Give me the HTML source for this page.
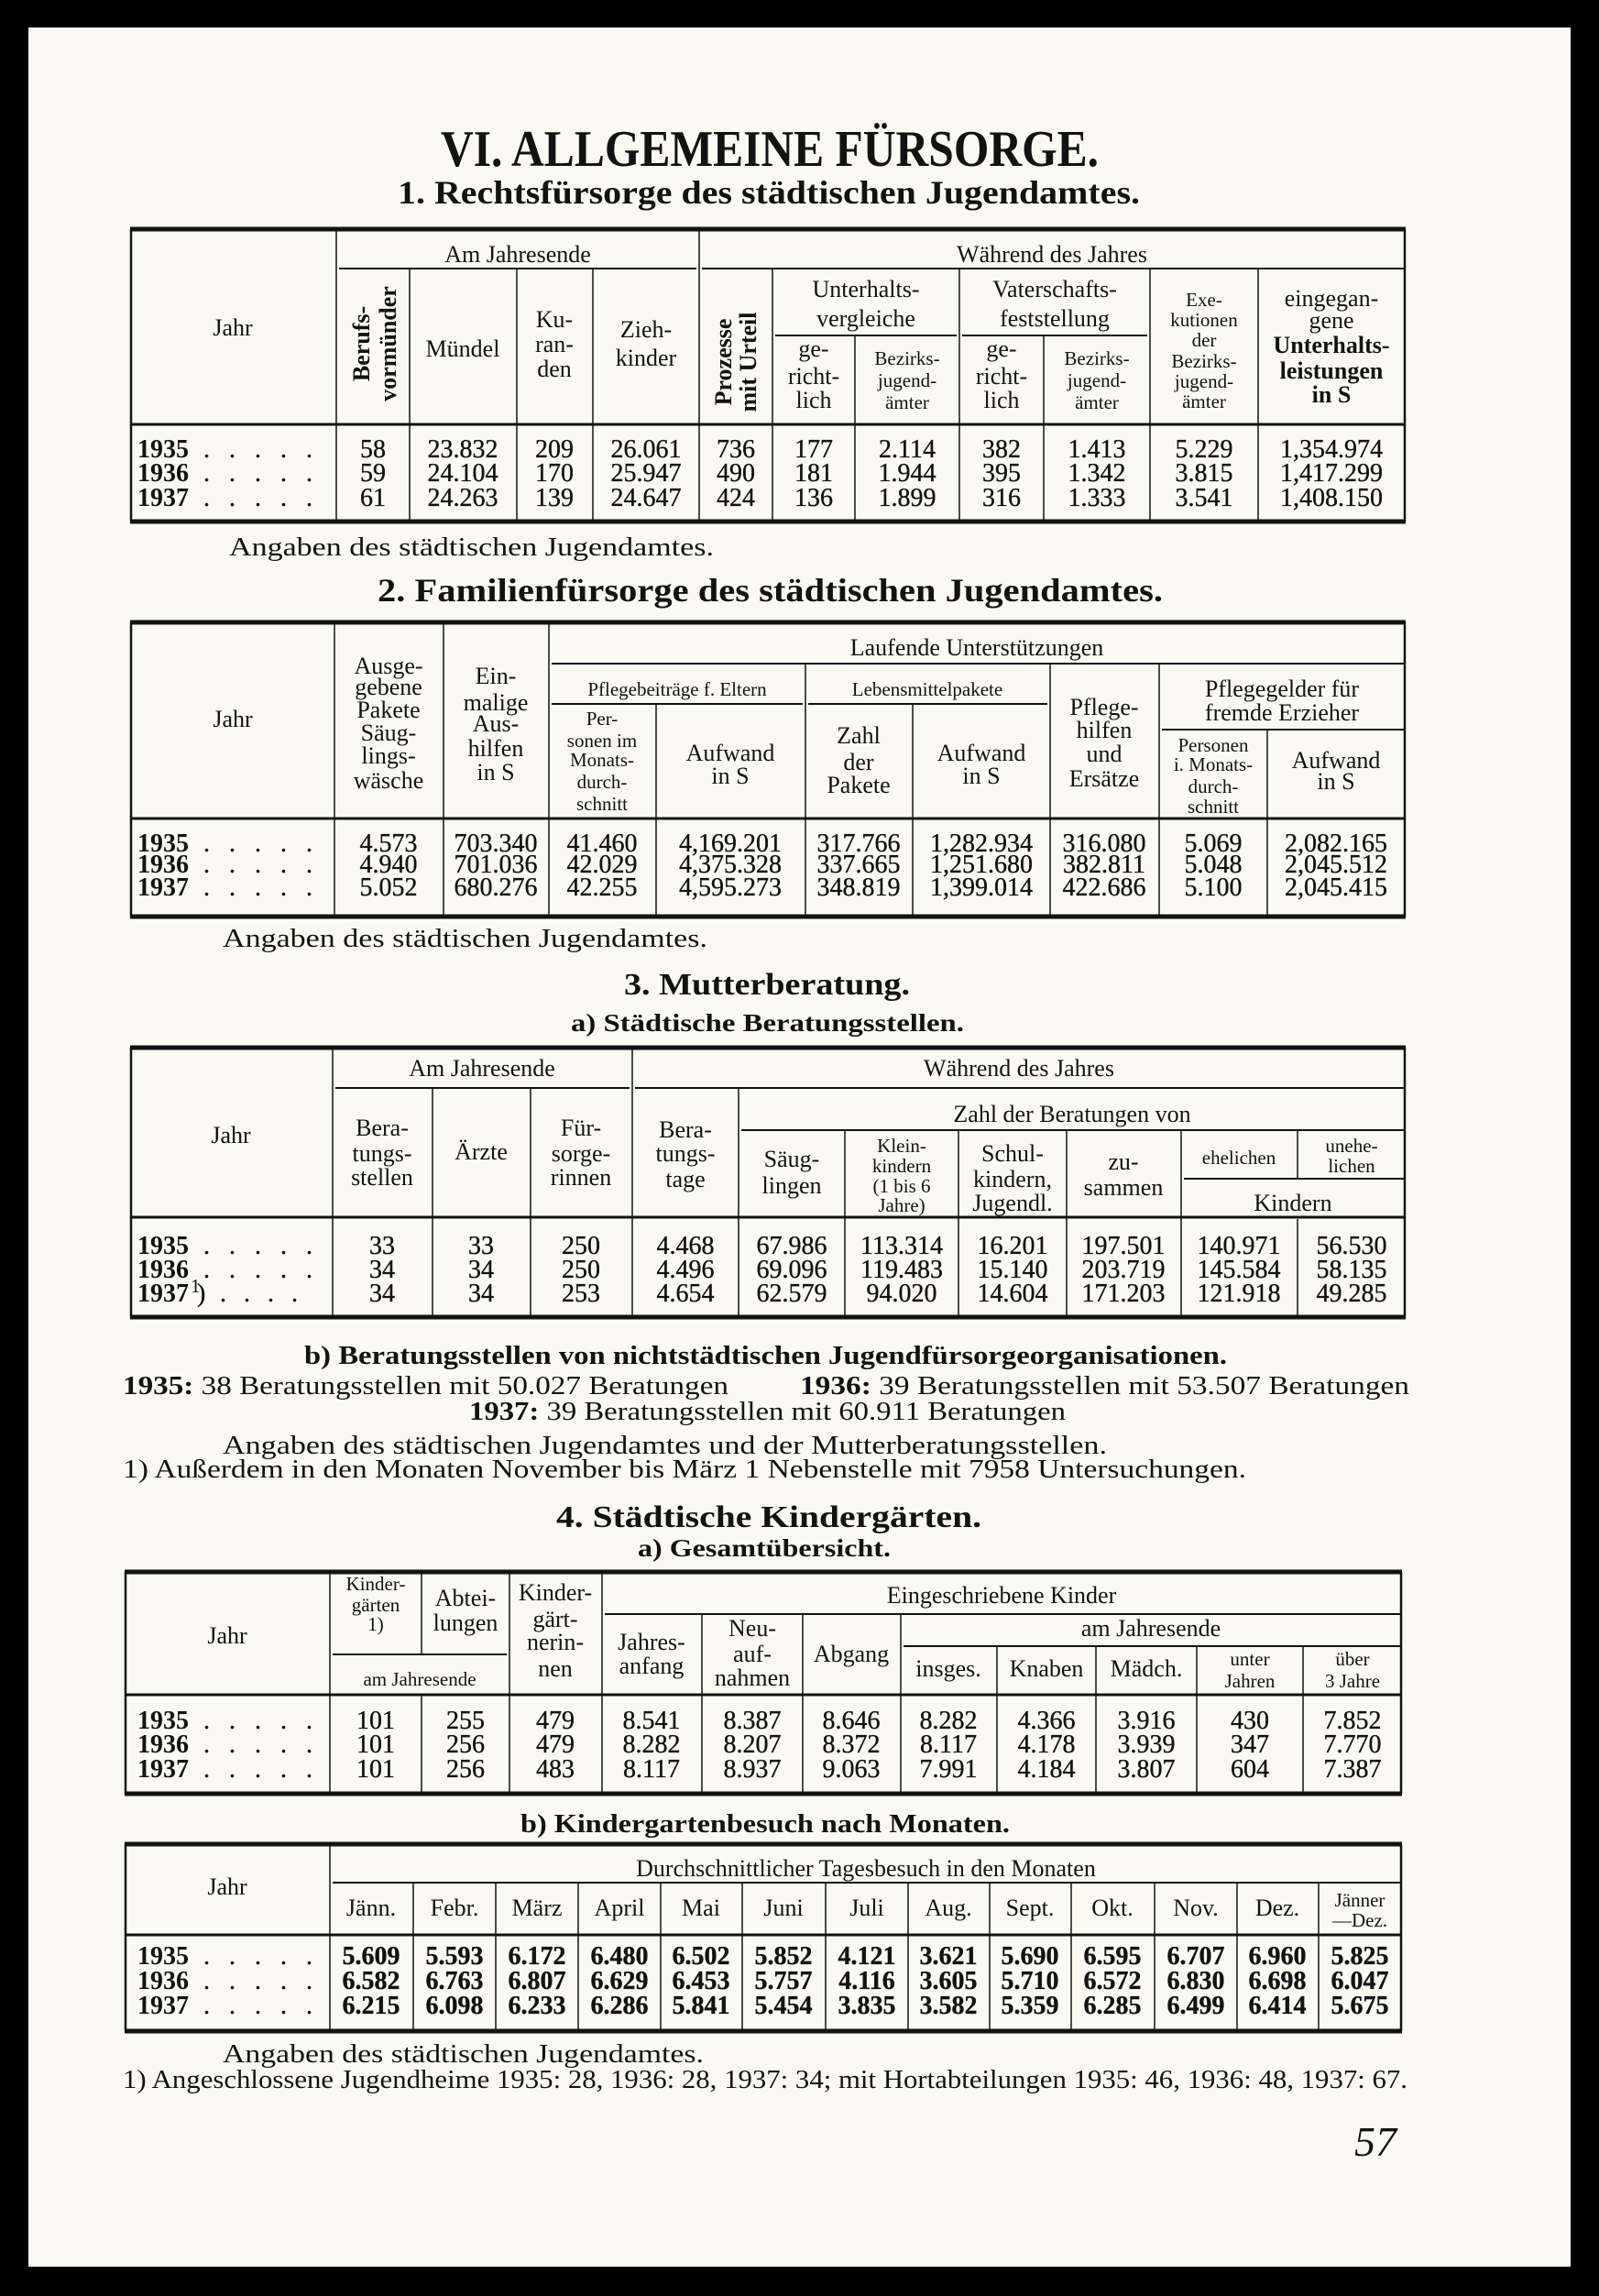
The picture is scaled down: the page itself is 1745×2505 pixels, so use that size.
<!DOCTYPE html>
<html><head><meta charset="utf-8"><style>
html,body{margin:0;padding:0;background:#000}
svg{display:block}
text{font-family:"Liberation Serif",serif;fill:#121212}
.h{font-size:26px}
.s{font-size:21px}
.d{font-size:28px;stroke:#121212;stroke-width:0.35}
.y{font-size:28px;font-weight:bold}
.b{font-weight:bold}
.m{text-anchor:middle}
.L{stroke:#121212;fill:none}
</style></head><body>
<svg width="1745" height="2505" viewBox="0 0 1745 2505" xmlns="http://www.w3.org/2000/svg">
<rect x="0" y="0" width="1745" height="2505" fill="#000"/>
<rect x="31" y="30" width="1683" height="2443" fill="#fbfaf2"/>

<text x="481" y="181" font-size="56" class="b" textLength="718" lengthAdjust="spacingAndGlyphs">VI. ALLGEMEINE FÜRSORGE.</text>
<text x="434" y="222" font-size="36" class="b" textLength="810" lengthAdjust="spacingAndGlyphs">1. Rechtsfürsorge des städtischen Jugendamtes.</text>

<!-- TABLE 1 -->
<g class="L">
<path d="M142 250H1534" stroke-width="5"/>
<path d="M142 463H1534" stroke-width="3"/>
<path d="M142 569H1534" stroke-width="5"/>
<path d="M143 250V569M1533 250V569" stroke-width="2.5"/>
<path d="M370 293H760M766 293H1532M846 366H1044M1050 366H1252" stroke-width="2"/>
<path d="M367 250V569M763 250V569M447 293V569M564 293V569M647 293V569M843 293V569M1047 293V569M1255 293V569M1373 293V569M933 366V569M1139 366V569" stroke-width="1.5"/>
</g>
<text x="565" y="286" class="h m">Am Jahresende</text>
<text x="1148" y="286" class="h m">Während des Jahres</text>
<text x="254" y="366" class="h m">Jahr</text>
<text transform="translate(403,375) rotate(-90)" class="h m b">Berufs-</text>
<text transform="translate(432,375) rotate(-90)" class="h m b">vormünder</text>
<text x="505" y="389" class="h m">Mündel</text>
<text x="605" y="357" class="h m">Ku-</text><text x="605" y="384" class="h m">ran-</text><text x="605" y="411" class="h m">den</text>
<text x="705" y="368" class="h m">Zieh-</text><text x="705" y="399" class="h m">kinder</text>
<text transform="translate(798,395) rotate(-90)" class="h m b">Prozesse</text>
<text transform="translate(825,395) rotate(-90)" class="h m b">mit Urteil</text>
<text x="945" y="324" class="h m">Unterhalts-</text><text x="945" y="356" class="h m">vergleiche</text>
<text x="1151" y="324" class="h m">Vaterschafts-</text><text x="1151" y="356" class="h m">feststellung</text>
<text x="888" y="389" class="h m">ge-</text><text x="888" y="419" class="h m">richt-</text><text x="888" y="445" class="h m">lich</text>
<text x="1093" y="389" class="h m">ge-</text><text x="1093" y="419" class="h m">richt-</text><text x="1093" y="445" class="h m">lich</text>
<text x="990" y="398" class="s m">Bezirks-</text><text x="990" y="422" class="s m">jugend-</text><text x="990" y="446" class="s m">ämter</text>
<text x="1197" y="398" class="s m">Bezirks-</text><text x="1197" y="422" class="s m">jugend-</text><text x="1197" y="446" class="s m">ämter</text>
<text x="1314" y="334" class="s m">Exe-</text><text x="1314" y="356" class="s m">kutionen</text><text x="1314" y="378" class="s m">der</text><text x="1314" y="401" class="s m">Bezirks-</text><text x="1314" y="423" class="s m">jugend-</text><text x="1314" y="445" class="s m">ämter</text>
<text x="1453" y="334" class="h m">eingegan-</text><text x="1453" y="358" class="h m">gene</text><text x="1453" y="385" class="h m b">Unterhalts-</text><text x="1453" y="413" class="h m b">leistungen</text><text x="1453" y="439" class="h m b">in S</text>

<g class="d m">
<text x="407" y="499">58</text><text x="505" y="499">23.832</text><text x="605" y="499">209</text><text x="705" y="499">26.061</text><text x="803" y="499">736</text><text x="888" y="499">177</text><text x="990" y="499">2.114</text><text x="1093" y="499">382</text><text x="1197" y="499">1.413</text><text x="1314" y="499">5.229</text><text x="1453" y="499">1,354.974</text>
<text x="407" y="525">59</text><text x="505" y="525">24.104</text><text x="605" y="525">170</text><text x="705" y="525">25.947</text><text x="803" y="525">490</text><text x="888" y="525">181</text><text x="990" y="525">1.944</text><text x="1093" y="525">395</text><text x="1197" y="525">1.342</text><text x="1314" y="525">3.815</text><text x="1453" y="525">1,417.299</text>
<text x="407" y="552">61</text><text x="505" y="552">24.263</text><text x="605" y="552">139</text><text x="705" y="552">24.647</text><text x="803" y="552">424</text><text x="888" y="552">136</text><text x="990" y="552">1.899</text><text x="1093" y="552">316</text><text x="1197" y="552">1.333</text><text x="1314" y="552">3.541</text><text x="1453" y="552">1,408.150</text>
</g>
<text x="150" y="499" class="y">1935</text><text x="222" y="499" class="d" letter-spacing="7">. . . . .</text>
<text x="150" y="525" class="y">1936</text><text x="222" y="525" class="d" letter-spacing="7">. . . . .</text>
<text x="150" y="552" class="y">1937</text><text x="222" y="552" class="d" letter-spacing="7">. . . . .</text>
<text x="250" y="606" font-size="29" textLength="529" lengthAdjust="spacingAndGlyphs">Angaben des städtischen Jugendamtes.</text>

<!-- TABLE 2 -->
<text x="412" y="656" font-size="36" class="b" textLength="857" lengthAdjust="spacingAndGlyphs">2. Familienfürsorge des städtischen Jugendamtes.</text>
<g class="L">
<path d="M142 679H1534" stroke-width="5"/>
<path d="M142 893H1534" stroke-width="3"/>
<path d="M142 1000H1534" stroke-width="5"/>
<path d="M143 679V1000M1533 679V1000" stroke-width="2.5"/>
<path d="M602 724H1532M602 768H876M882 768H1143M1268 796H1532" stroke-width="2"/>
<path d="M365 679V1000M484 679V1000M599 679V1000M879 724V1000M1146 724V1000M1265 724V1000M716 768V1000M996 768V1000M1383 796V1000" stroke-width="1.5"/>
</g>
<text x="1066" y="715" class="h m">Laufende Unterstützungen</text>
<text x="739" y="759" class="s m">Pflegebeiträge f. Eltern</text>
<text x="1012" y="759" class="s m">Lebensmittelpakete</text>
<text x="254" y="793" class="h m">Jahr</text>
<text x="424" y="735" class="h m">Ausge-</text><text x="424" y="758" class="h m">gebene</text><text x="424" y="783" class="h m">Pakete</text><text x="424" y="808" class="h m">Säug-</text><text x="424" y="833" class="h m">lings-</text><text x="424" y="860" class="h m">wäsche</text>
<text x="541" y="746" class="h m">Ein-</text><text x="541" y="775" class="h m">malige</text><text x="541" y="798" class="h m">Aus-</text><text x="541" y="825" class="h m">hilfen</text><text x="541" y="851" class="h m">in S</text>
<text x="657" y="791" class="s m">Per-</text><text x="657" y="815" class="s m">sonen im</text><text x="657" y="836" class="s m">Monats-</text><text x="657" y="860" class="s m">durch-</text><text x="657" y="884" class="s m">schnitt</text>
<text x="797" y="830" class="h m">Aufwand</text><text x="797" y="855" class="h m">in S</text>
<text x="937" y="811" class="h m">Zahl</text><text x="937" y="840" class="h m">der</text><text x="937" y="865" class="h m">Pakete</text>
<text x="1071" y="830" class="h m">Aufwand</text><text x="1071" y="855" class="h m">in S</text>
<text x="1205" y="780" class="h m">Pflege-</text><text x="1205" y="805" class="h m">hilfen</text><text x="1205" y="831" class="h m">und</text><text x="1205" y="858" class="h m">Ersätze</text>
<text x="1399" y="760" class="h m">Pflegegelder für</text><text x="1399" y="786" class="h m">fremde Erzieher</text>
<text x="1324" y="820" class="s m">Personen</text><text x="1324" y="841" class="s m">i. Monats-</text><text x="1324" y="865" class="s m">durch-</text><text x="1324" y="887" class="s m">schnitt</text>
<text x="1458" y="838" class="h m">Aufwand</text><text x="1458" y="861" class="h m">in S</text>
<g class="d m">
<text x="424" y="929">4.573</text><text x="541" y="929">703.340</text><text x="657" y="929">41.460</text><text x="797" y="929">4,169.201</text><text x="937" y="929">317.766</text><text x="1071" y="929">1,282.934</text><text x="1205" y="929">316.080</text><text x="1324" y="929">5.069</text><text x="1458" y="929">2,082.165</text>
<text x="424" y="952">4.940</text><text x="541" y="952">701.036</text><text x="657" y="952">42.029</text><text x="797" y="952">4,375.328</text><text x="937" y="952">337.665</text><text x="1071" y="952">1,251.680</text><text x="1205" y="952">382.811</text><text x="1324" y="952">5.048</text><text x="1458" y="952">2,045.512</text>
<text x="424" y="977">5.052</text><text x="541" y="977">680.276</text><text x="657" y="977">42.255</text><text x="797" y="977">4,595.273</text><text x="937" y="977">348.819</text><text x="1071" y="977">1,399.014</text><text x="1205" y="977">422.686</text><text x="1324" y="977">5.100</text><text x="1458" y="977">2,045.415</text>
</g>
<text x="150" y="929" class="y">1935</text><text x="222" y="929" class="d" letter-spacing="7">. . . . .</text>
<text x="150" y="952" class="y">1936</text><text x="222" y="952" class="d" letter-spacing="7">. . . . .</text>
<text x="150" y="977" class="y">1937</text><text x="222" y="977" class="d" letter-spacing="7">. . . . .</text>
<text x="243" y="1033" font-size="29" textLength="529" lengthAdjust="spacingAndGlyphs">Angaben des städtischen Jugendamtes.</text>

<!-- TABLE 3 -->
<text x="681" y="1085" font-size="34" class="b" textLength="312" lengthAdjust="spacingAndGlyphs">3. Mutterberatung.</text>
<text x="623" y="1125" font-size="27" class="b" textLength="429" lengthAdjust="spacingAndGlyphs">a) Städtische Beratungsstellen.</text>
<g class="L">
<path d="M142 1143H1534" stroke-width="5"/>
<path d="M142 1328H1534" stroke-width="3"/>
<path d="M142 1437H1534" stroke-width="5"/>
<path d="M143 1143V1437M1533 1143V1437" stroke-width="2.5"/>
<path d="M366 1187H687M693 1187H1532M809 1233H1532M1292 1286H1532" stroke-width="2"/>
<path d="M363 1143V1437M690 1143V1437M472 1187V1437M579 1187V1437M806 1187V1437M922 1233V1437M1046 1233V1437M1164 1233V1437M1289 1233V1437M1416 1233V1286M1416 1330V1437" stroke-width="1.5"/>
</g>
<text x="526" y="1174" class="h m">Am Jahresende</text>
<text x="1112" y="1174" class="h m">Während des Jahres</text>
<text x="1170" y="1224" class="h m">Zahl der Beratungen von</text>
<text x="252" y="1247" class="h m">Jahr</text>
<text x="417" y="1239" class="h m">Bera-</text><text x="417" y="1267" class="h m">tungs-</text><text x="417" y="1293" class="h m">stellen</text>
<text x="525" y="1265" class="h m">Ärzte</text>
<text x="634" y="1239" class="h m">Für-</text><text x="634" y="1267" class="h m">sorge-</text><text x="634" y="1293" class="h m">rinnen</text>
<text x="748" y="1241" class="h m">Bera-</text><text x="748" y="1267" class="h m">tungs-</text><text x="748" y="1295" class="h m">tage</text>
<text x="864" y="1273" class="h m">Säug-</text><text x="864" y="1302" class="h m">lingen</text>
<text x="984" y="1257" class="s m">Klein-</text><text x="984" y="1279" class="s m">kindern</text><text x="984" y="1301" class="s m">(1 bis 6</text><text x="984" y="1322" class="s m">Jahre)</text>
<text x="1105" y="1267" class="h m">Schul-</text><text x="1105" y="1295" class="h m">kindern,</text><text x="1105" y="1321" class="h m">Jugendl.</text>
<text x="1226" y="1276" class="h m">zu-</text><text x="1226" y="1304" class="h m">sammen</text>
<text x="1352" y="1270" class="s m">ehelichen</text>
<text x="1475" y="1257" class="s m">unehe-</text><text x="1475" y="1279" class="s m">lichen</text>
<text x="1411" y="1321" class="h m">Kindern</text>
<g class="d m">
<text x="417" y="1368">33</text><text x="525" y="1368">33</text><text x="634" y="1368">250</text><text x="748" y="1368">4.468</text><text x="864" y="1368">67.986</text><text x="984" y="1368">113.314</text><text x="1105" y="1368">16.201</text><text x="1226" y="1368">197.501</text><text x="1352" y="1368">140.971</text><text x="1475" y="1368">56.530</text>
<text x="417" y="1394">34</text><text x="525" y="1394">34</text><text x="634" y="1394">250</text><text x="748" y="1394">4.496</text><text x="864" y="1394">69.096</text><text x="984" y="1394">119.483</text><text x="1105" y="1394">15.140</text><text x="1226" y="1394">203.719</text><text x="1352" y="1394">145.584</text><text x="1475" y="1394">58.135</text>
<text x="417" y="1420">34</text><text x="525" y="1420">34</text><text x="634" y="1420">253</text><text x="748" y="1420">4.654</text><text x="864" y="1420">62.579</text><text x="984" y="1420">94.020</text><text x="1105" y="1420">14.604</text><text x="1226" y="1420">171.203</text><text x="1352" y="1420">121.918</text><text x="1475" y="1420">49.285</text>
</g>
<text x="150" y="1368" class="y">1935</text><text x="222" y="1368" class="d" letter-spacing="7">. . . . .</text>
<text x="150" y="1394" class="y">1936</text><text x="222" y="1394" class="d" letter-spacing="7">. . . . .</text>
<text x="150" y="1420" class="y">1937</text><text x="208" y="1410" class="s">1</text><text x="215" y="1420" class="d">)</text><text x="240" y="1420" class="d" letter-spacing="6">. . . .</text>

<text x="332" y="1488" font-size="28" class="b" textLength="1007" lengthAdjust="spacingAndGlyphs">b) Beratungsstellen von nichtstädtischen Jugendfürsorgeorganisationen.</text>
<text x="134" y="1521" font-size="29" textLength="661" lengthAdjust="spacingAndGlyphs"><tspan class="b">1935:</tspan> 38 Beratungsstellen mit 50.027 Beratungen</text>
<text x="873" y="1521" font-size="29" textLength="665" lengthAdjust="spacingAndGlyphs"><tspan class="b">1936:</tspan> 39 Beratungsstellen mit 53.507 Beratungen</text>
<text x="512" y="1549" font-size="29" textLength="651" lengthAdjust="spacingAndGlyphs"><tspan class="b">1937:</tspan> 39 Beratungsstellen mit 60.911 Beratungen</text>
<text x="243" y="1586" font-size="29" textLength="965" lengthAdjust="spacingAndGlyphs">Angaben des städtischen Jugendamtes und der Mutterberatungsstellen.</text>
<text x="134" y="1612" font-size="29" textLength="1226" lengthAdjust="spacingAndGlyphs">1) Außerdem in den Monaten November bis März 1 Nebenstelle mit 7958 Untersuchungen.</text>

<!-- TABLE 4 -->
<text x="607" y="1666" font-size="34" class="b" textLength="464" lengthAdjust="spacingAndGlyphs">4. Städtische Kindergärten.</text>
<text x="696" y="1698" font-size="27" class="b" textLength="276" lengthAdjust="spacingAndGlyphs">a) Gesamtübersicht.</text>
<g class="L">
<path d="M136 1715H1530" stroke-width="5"/>
<path d="M136 1849H1530" stroke-width="3"/>
<path d="M136 1957H1530" stroke-width="5"/>
<path d="M137 1715V1957M1529 1715V1957" stroke-width="2.5"/>
<path d="M660 1761H1528M986 1796H1528M363 1805H553" stroke-width="2"/>
<path d="M360 1715V1957M460 1715V1805M460 1849V1957M556 1715V1957M657 1715V1957M766 1761V1957M876 1761V1957M983 1761V1957M1088 1796V1957M1196 1796V1957M1306 1796V1957M1422 1796V1957" stroke-width="1.5"/>
</g>
<text x="1093" y="1749" class="h m">Eingeschriebene Kinder</text>
<text x="1256" y="1785" class="h m">am Jahresende</text>
<text x="248" y="1793" class="h m">Jahr</text>
<text x="410" y="1735" class="s m">Kinder-</text><text x="410" y="1758" class="s m">gärten</text><text x="410" y="1779" class="s m">1)</text>
<text x="508" y="1752" class="h m">Abtei-</text><text x="508" y="1779" class="h m">lungen</text>
<text x="458" y="1839" class="s m">am Jahresende</text>
<text x="606" y="1746" class="h m">Kinder-</text><text x="606" y="1775" class="h m">gärt-</text><text x="606" y="1800" class="h m">nerin-</text><text x="606" y="1829" class="h m">nen</text>
<text x="711" y="1800" class="h m">Jahres-</text><text x="711" y="1826" class="h m">anfang</text>
<text x="821" y="1785" class="h m">Neu-</text><text x="821" y="1813" class="h m">auf-</text><text x="821" y="1839" class="h m">nahmen</text>
<text x="929" y="1813" class="h m">Abgang</text>
<text x="1035" y="1829" class="h m">insges.</text><text x="1142" y="1829" class="h m">Knaben</text><text x="1251" y="1829" class="h m">Mädch.</text>
<text x="1364" y="1817" class="s m">unter</text><text x="1364" y="1841" class="s m">Jahren</text>
<text x="1476" y="1817" class="s m">über</text><text x="1476" y="1841" class="s m">3 Jahre</text>
<g class="d m">
<text x="410" y="1886">101</text><text x="508" y="1886">255</text><text x="606" y="1886">479</text><text x="711" y="1886">8.541</text><text x="821" y="1886">8.387</text><text x="929" y="1886">8.646</text><text x="1035" y="1886">8.282</text><text x="1142" y="1886">4.366</text><text x="1251" y="1886">3.916</text><text x="1364" y="1886">430</text><text x="1476" y="1886">7.852</text>
<text x="410" y="1912">101</text><text x="508" y="1912">256</text><text x="606" y="1912">479</text><text x="711" y="1912">8.282</text><text x="821" y="1912">8.207</text><text x="929" y="1912">8.372</text><text x="1035" y="1912">8.117</text><text x="1142" y="1912">4.178</text><text x="1251" y="1912">3.939</text><text x="1364" y="1912">347</text><text x="1476" y="1912">7.770</text>
<text x="410" y="1939">101</text><text x="508" y="1939">256</text><text x="606" y="1939">483</text><text x="711" y="1939">8.117</text><text x="821" y="1939">8.937</text><text x="929" y="1939">9.063</text><text x="1035" y="1939">7.991</text><text x="1142" y="1939">4.184</text><text x="1251" y="1939">3.807</text><text x="1364" y="1939">604</text><text x="1476" y="1939">7.387</text>
</g>
<text x="150" y="1886" class="y">1935</text><text x="222" y="1886" class="d" letter-spacing="7">. . . . .</text>
<text x="150" y="1912" class="y">1936</text><text x="222" y="1912" class="d" letter-spacing="7">. . . . .</text>
<text x="150" y="1939" class="y">1937</text><text x="222" y="1939" class="d" letter-spacing="7">. . . . .</text>

<!-- TABLE 5 -->
<text x="568" y="1999" font-size="28" class="b" textLength="534" lengthAdjust="spacingAndGlyphs">b) Kindergartenbesuch nach Monaten.</text>
<g class="L">
<path d="M136 2012H1530" stroke-width="5"/>
<path d="M136 2111H1530" stroke-width="3"/>
<path d="M136 2216H1530" stroke-width="5"/>
<path d="M137 2012V2216M1529 2012V2216" stroke-width="2.5"/>
<path d="M363 2054H1528" stroke-width="2"/>
<path d="M360 2012V2216M451 2054V2216M541 2054V2216M631 2054V2216M721 2054V2216M810 2054V2216M901 2054V2216M991 2054V2216M1080 2054V2216M1169 2054V2216M1260 2054V2216M1350 2054V2216M1439 2054V2216" stroke-width="1.5"/>
</g>
<text x="945" y="2047" class="h m">Durchschnittlicher Tagesbesuch in den Monaten</text>
<text x="248" y="2067" class="h m">Jahr</text>
<g class="h m">
<text x="405" y="2090">Jänn.</text><text x="496" y="2090">Febr.</text><text x="586" y="2090">März</text><text x="676" y="2090">April</text><text x="765" y="2090">Mai</text><text x="855" y="2090">Juni</text><text x="946" y="2090">Juli</text><text x="1035" y="2090">Aug.</text><text x="1124" y="2090">Sept.</text><text x="1214" y="2090">Okt.</text><text x="1305" y="2090">Nov.</text><text x="1394" y="2090">Dez.</text>
</g>
<text x="1484" y="2080" class="s m">Jänner</text><text x="1484" y="2102" class="s m">—Dez.</text>
<g class="d m b" font-size="25">
<text x="405" y="2143">5.609</text><text x="496" y="2143">5.593</text><text x="586" y="2143">6.172</text><text x="676" y="2143">6.480</text><text x="765" y="2143">6.502</text><text x="855" y="2143">5.852</text><text x="946" y="2143">4.121</text><text x="1035" y="2143">3.621</text><text x="1124" y="2143">5.690</text><text x="1214" y="2143">6.595</text><text x="1305" y="2143">6.707</text><text x="1394" y="2143">6.960</text><text x="1484" y="2143">5.825</text>
<text x="405" y="2170">6.582</text><text x="496" y="2170">6.763</text><text x="586" y="2170">6.807</text><text x="676" y="2170">6.629</text><text x="765" y="2170">6.453</text><text x="855" y="2170">5.757</text><text x="946" y="2170">4.116</text><text x="1035" y="2170">3.605</text><text x="1124" y="2170">5.710</text><text x="1214" y="2170">6.572</text><text x="1305" y="2170">6.830</text><text x="1394" y="2170">6.698</text><text x="1484" y="2170">6.047</text>
<text x="405" y="2197">6.215</text><text x="496" y="2197">6.098</text><text x="586" y="2197">6.233</text><text x="676" y="2197">6.286</text><text x="765" y="2197">5.841</text><text x="855" y="2197">5.454</text><text x="946" y="2197">3.835</text><text x="1035" y="2197">3.582</text><text x="1124" y="2197">5.359</text><text x="1214" y="2197">6.285</text><text x="1305" y="2197">6.499</text><text x="1394" y="2197">6.414</text><text x="1484" y="2197">5.675</text>
</g>
<text x="150" y="2143" class="y">1935</text><text x="222" y="2143" class="d" letter-spacing="7">. . . . .</text>
<text x="150" y="2170" class="y">1936</text><text x="222" y="2170" class="d" letter-spacing="7">. . . . .</text>
<text x="150" y="2197" class="y">1937</text><text x="222" y="2197" class="d" letter-spacing="7">. . . . .</text>

<text x="243" y="2250" font-size="29" textLength="525" lengthAdjust="spacingAndGlyphs">Angaben des städtischen Jugendamtes.</text>
<text x="134" y="2278" font-size="28" textLength="1402" lengthAdjust="spacingAndGlyphs">1) Angeschlossene Jugendheime 1935: 28, 1936: 28, 1937: 34; mit Hortabteilungen 1935: 46, 1936: 48, 1937: 67.</text>
<text x="1478" y="2352" font-size="46" font-style="italic">57</text>
</svg>
</body></html>
